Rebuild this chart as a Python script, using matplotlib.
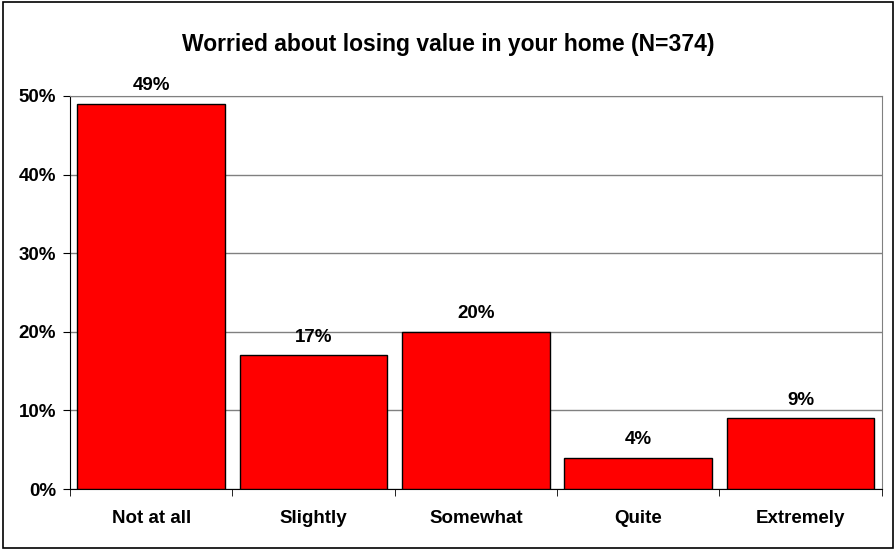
import numpy as np
import matplotlib.pyplot as plt
from matplotlib.patches import Rectangle

categories = ["Not at all", "Slightly", "Somewhat", "Quite", "Extremely"]
percents = [49, 17, 20, 4, 9]
yticks = [0, 10, 20, 30, 40, 50]

plt.rcParams['font.family'] = ['Liberation Sans', 'DejaVu Sans']
plt.rcParams['font.weight'] = 'bold'

fig = plt.figure(figsize=(8.96, 5.5), dpi=100)
ax = fig.add_axes([0.0781, 0.1109, 0.9059, 0.7146])

# outer frame of the chart
fig.patches.append(Rectangle((0.003, 0.003), 0.994, 0.994, transform=fig.transFigure,
                             fill=False, edgecolor='black', linewidth=1.2))

x = np.arange(len(categories))
ax.bar(x, percents, width=0.91, color='#ff0000', edgecolor='black', linewidth=1, zorder=3)

for xi, v in zip(x, percents):
    ax.text(xi, v + 1.2, f"{v}%", ha='center', va='bottom', fontsize=13.5, fontweight='bold')

ax.set_xlim(-0.5, len(categories) - 0.5)
ax.set_ylim(0, 50)
ax.set_yticks(yticks)
ax.set_yticklabels([f"{t}%" for t in yticks], fontsize=13.5, fontweight='bold')
ax.yaxis.grid(True, color='#808080', linewidth=1, zorder=0)

ax.set_xticks(x)
ax.set_xticklabels(categories, fontsize=13.5, fontweight='bold')
ax.tick_params(axis='x', length=0, pad=15)
ax.set_xticks(np.arange(len(categories) + 1) - 0.5, minor=True)
ax.tick_params(axis='x', which='minor', length=5, direction='out', color='black')
ax.tick_params(axis='y', length=5, direction='out', pad=5)

ax.spines['top'].set_color('#808080')
ax.spines['right'].set_color('#808080')
ax.spines['left'].set_color('black')
ax.spines['bottom'].set_color('black')

fig.text(0.5, 0.92, "Worried about losing value in your home (N=374)",
         ha='center', va='center', fontsize=16.5, fontweight='bold')

plt.savefig("out.png", dpi=100)
